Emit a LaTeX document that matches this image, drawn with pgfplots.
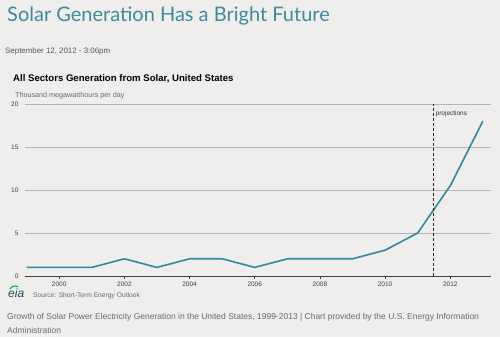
\documentclass[border=0pt]{standalone}
\usepackage{pgfplots}
\pgfplotsset{compat=1.18}
\usepackage{fontspec}
\setmainfont{Liberation Sans}
\newfontfamily\titlefont{Lato}
\definecolor{bgcol}{HTML}{EFEEEC}
\definecolor{teal1}{HTML}{2E8AA0}
\definecolor{titlecol}{HTML}{3B8C9C}
\definecolor{gridcol}{HTML}{B4B4B4}
\definecolor{txtgray}{HTML}{6A6A6A}
\pgfplotstableread{
year value
1999 1
2000 1
2001 1
2002 2
2003 1
2004 2
2005 2
2006 1
2007 2
2008 2
2009 2
2010 3
2011 5
2012 10.5
2013 18
}\solar
\begin{document}
\begin{tikzpicture}[x=1pt,y=1pt]
\fill[bgcol] (0,0) rectangle (500,337);
\useasboundingbox (0,0) rectangle (500,337);
\node[anchor=base west, inner sep=0, text=titlecol, font=\titlefont\fontsize{20}{22}\selectfont] at (7,315) {Solar Generation Has a Bright Future};
\node[anchor=base west, inner sep=0, text=txtgray!80!black, font=\fontsize{7.9}{9}\selectfont] at (5,283) {September 12, 2012 - 3:06pm};
\node[anchor=base west, inner sep=0, font=\bfseries\fontsize{9.6}{11}\selectfont] at (13,255) {All Sectors Generation from Solar, United States};
\node[anchor=base west, inner sep=0, text=txtgray, font=\fontsize{7.2}{8}\selectfont] at (15,239.5) {Thousand megawatthours per day};
\begin{axis}[
  at={(25pt,61pt)}, anchor=south west,
  scale only axis, width=466pt, height=172pt,
  xmin=1998.95, xmax=2013.25, ymin=0, ymax=20,
  axis x line*=bottom, axis y line*=left,
  y axis line style={draw=none},
  x axis line style={draw=black!75, line width=0.9pt},
  ytick={0,5,10,15,20},
  xtick={2000,2002,...,2012},
  xticklabel style={/pgf/number format/1000 sep={}, font=\fontsize{6.5}{7}\selectfont, text=black!75, yshift=1pt},
  yticklabel style={font=\fontsize{6.5}{7}\selectfont, text=black!75},
  /pgf/number format/assume math mode=true,
  ytick style={draw=none},
  xtick style={draw=black!75, line width=0.7pt},
  tick align=outside, major tick length=3pt,
  ymajorgrids, grid style={gridcol, line width=0.8pt},
  clip=false,
]
\addplot[teal1, line width=1.6pt] table[x=year, y=value] {\solar};
\addplot[black!85, densely dashed, line width=1pt] coordinates {(2011.5,0) (2011.5,20)};
\node[anchor=west, inner sep=1.5pt, font=\fontsize{6.5}{7}\selectfont, text=black!80] at (axis cs:2011.5,18.8) {projections};
\end{axis}
\node[anchor=base west, inner sep=0, text=teal1!60!black, font=\rmfamily\itshape\fontsize{12}{12}\selectfont] at (8,39) {eia};
\draw[green!50!teal, line width=1.2pt] (10,48) arc (150:60:6);
\node[anchor=base west, inner sep=0, text=txtgray, font=\fontsize{6.7}{8}\selectfont] at (33,39.5) {Source: Short-Term Energy Outlook};
\node[anchor=base west, inner sep=0, text=txtgray, font=\fontsize{8.5}{10}\selectfont] at (7,17) {Growth of Solar Power Electricity Generation in the United States, 1999-2013 | Chart provided by the U.S. Energy Information};
\node[anchor=base west, inner sep=0, text=txtgray, font=\fontsize{8.5}{10}\selectfont] at (7,4) {Administration};
\end{tikzpicture}
\end{document}
